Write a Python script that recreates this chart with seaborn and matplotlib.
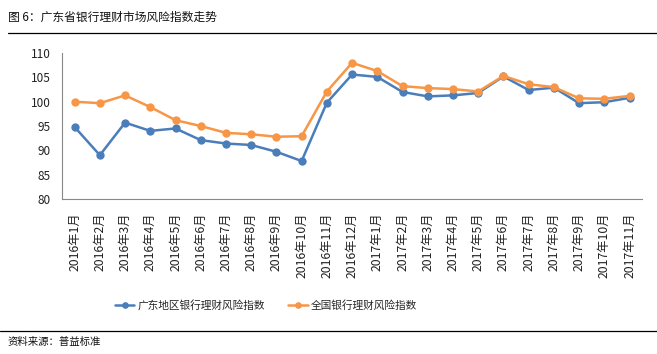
import numpy as np
import pandas as pd
import matplotlib
matplotlib.use("Agg")
import matplotlib.pyplot as plt
import seaborn as sns

months = ["2016年1月", "2016年2月", "2016年3月", "2016年4月", "2016年5月", "2016年6月",
          "2016年7月", "2016年8月", "2016年9月", "2016年10月", "2016年11月", "2016年12月",
          "2017年1月", "2017年2月", "2017年3月", "2017年4月", "2017年5月", "2017年6月",
          "2017年7月", "2017年8月", "2017年9月", "2017年10月", "2017年11月"]
guangdong = [94.8, 89.0, 95.7, 94.0, 94.5, 92.1, 91.4, 91.1, 89.7, 87.8, 99.8, 105.6,
             105.1, 102.0, 101.1, 101.3, 101.8, 105.2, 102.4, 102.9, 99.7, 99.9, 100.8]
national = [100.0, 99.7, 101.3, 98.9, 96.2, 95.0, 93.6, 93.3, 92.8, 92.9, 102.1, 108.0,
            106.3, 103.2, 102.8, 102.6, 102.1, 105.3, 103.6, 103.0, 100.7, 100.6, 101.2]
series_names = ["广东地区银行理财风险指数", "全国银行理财风险指数"]
colors = ["#4A7EBB", "#F79646"]

df = pd.DataFrame({
    "pos": list(range(len(months))) * 2,
    "value": guangdong + national,
    "series": [series_names[0]] * len(months) + [series_names[1]] * len(months),
})

sns.set_theme(style="white")
plt.rcParams['font.family'] = ['Noto Sans CJK SC', 'DejaVu Sans']

fig = plt.figure(figsize=(6.57, 3.54), dpi=100)
ax = fig.add_axes([0.0944, 0.438, 0.883, 0.412])

sns.lineplot(data=df, x="pos", y="value", hue="series", palette=colors,
             marker="o", markersize=6, markeredgewidth=0, linewidth=1.8,
             ax=ax, legend=True)

ax.set_xlim(-0.5, len(months) - 0.5)
ax.set_ylim(80, 110)
ax.set_yticks(range(80, 111, 5))
ax.set_xticks(range(len(months)))
ax.set_xticklabels(months, rotation=90, fontsize=8.8, color="#222222")
ax.set_xticks(np.arange(-0.5, len(months), 1), minor=True)
ax.tick_params(axis="x", which="major", length=0, pad=10)
ax.tick_params(axis="x", which="minor", length=4, color="#888888", width=0.8, direction="out")
ax.tick_params(axis="y", length=0, labelsize=8.5, labelcolor="#222222", pad=8)
ax.set_xlabel("")
ax.set_ylabel("")
for s in ["top", "right"]:
    ax.spines[s].set_visible(False)
for s in ["left", "bottom"]:
    ax.spines[s].set_color("#888888")
    ax.spines[s].set_linewidth(0.8)

handles, labels = ax.get_legend_handles_labels()
ax.get_legend().remove()
fig.legend(handles, labels, loc="center", bbox_to_anchor=(0.405, 0.138), ncol=2,
           frameon=False, fontsize=7.7, handlelength=1.8, handletextpad=0.3,
           columnspacing=2.2, markerscale=0.8)

fig.text(0.012, 0.952, "图 6：广东省银行理财市场风险指数走势", fontsize=8.5,
         ha="left", va="center", color="#111111")
fig.add_artist(plt.Line2D([0.012, 1.0], [0.907, 0.907], color="black", linewidth=0.9))
fig.add_artist(plt.Line2D([0.0, 1.0], [0.065, 0.065], color="black", linewidth=0.9))
fig.text(0.012, 0.033, "资料来源：普益标准", fontsize=7.5, ha="left", va="center",
         color="#111111")

fig.savefig("out.png", dpi=100)
